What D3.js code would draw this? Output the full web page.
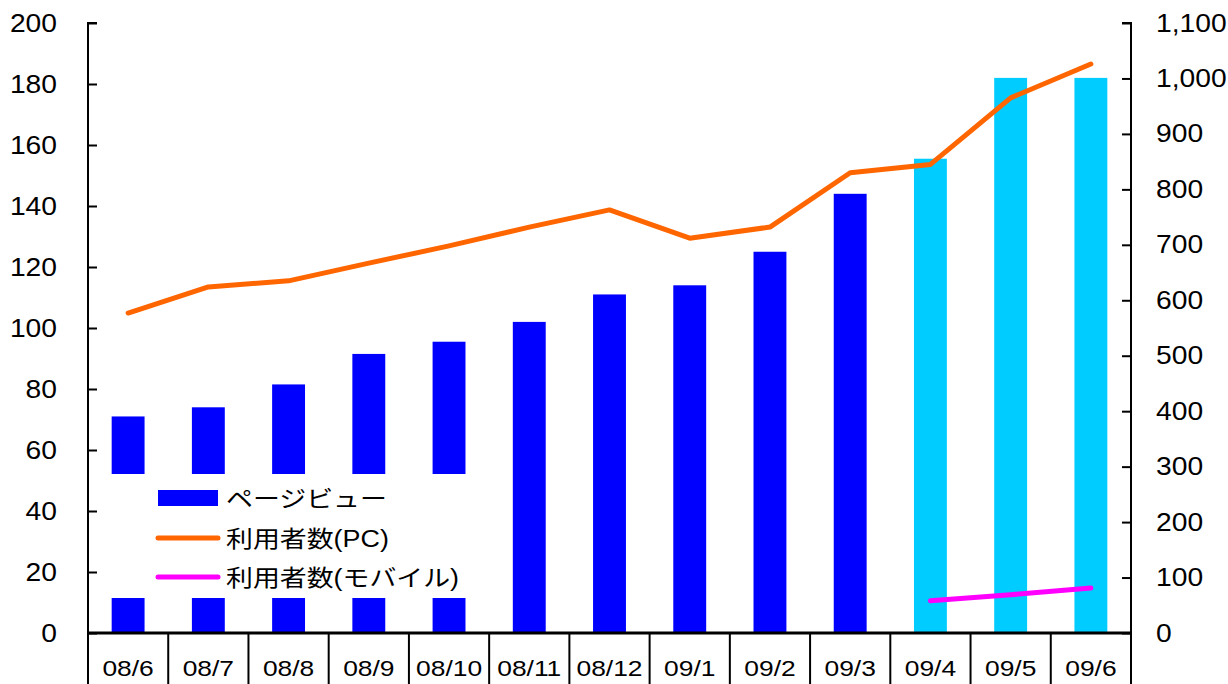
<!DOCTYPE html>
<html>
<head>
<meta charset="utf-8">
<script src="https://cdn.jsdelivr.net/npm/d3@7/dist/d3.min.js"></script>
<style>
    body { margin: 0; background: #fff; }
    text { font-family: "Liberation Sans", "Noto Sans CJK JP", sans-serif; fill: #000; }
</style>
</head>
<body>
<svg id="chart" width="1228" height="684"></svg>
<script>
    const months = ["08/6", "08/7", "08/8", "08/9", "08/10", "08/11", "08/12", "09/1", "09/2", "09/3", "09/4", "09/5", "09/6"];
    const pageViews = [71, 74, 81.5, 91.5, 95.5, 102, 111, 114, 125, 144, 155.5, 182, 182];
    const usersPC = [577, 624, 635, 667, 698, 732, 763, 712, 732, 830, 845, 965, 1026];
    const usersMobile = [null, null, null, null, null, null, null, null, null, null, 58, 69, 81];
    const leftTicks = [0, 20, 40, 60, 80, 100, 120, 140, 160, 180, 200];
    const rightTicks = [0, 100, 200, 300, 400, 500, 600, 700, 800, 900, 1000, 1100];
    const legendLabels = ["ページビュー", "利用者数(PC)", "利用者数(モバイル)"];
    const lightFrom = 10; // 09/4 onwards drawn in light blue

    const svg = d3.select("#chart");
    const plotLeft = 88, plotRight = 1131, plotTop = 23, plotBottom = 633;
    const stretch = 1.13; // the original text is drawn a little wide

    const x = d3.scaleBand().domain(months).range([plotLeft, plotRight]);
    const yL = d3.scaleLinear().domain([0, 200]).range([plotBottom, plotTop]);
    const yR = d3.scaleLinear().domain([0, 1100]).range([plotBottom, plotTop]);
    const barW = x.bandwidth() * 0.41;
    const cx = d => x(d) + x.bandwidth() / 2;

    // bars
    svg.append("g").selectAll("rect")
        .data(months)
        .join("rect")
        .attr("x", d => cx(d) - barW / 2)
        .attr("width", barW)
        .attr("y", (d, i) => yL(pageViews[i]))
        .attr("height", (d, i) => plotBottom - yL(pageViews[i]))
        .attr("fill", (d, i) => i >= lightFrom ? "#00CCFF" : "#0000FF");

    // lines
    const line = d3.line()
        .defined(d => d[1] != null)
        .x(d => cx(d[0]))
        .y(d => yR(d[1]));

    svg.append("path")
        .attr("d", line(months.map((m, i) => [m, usersPC[i]])))
        .attr("fill", "none").attr("stroke", "#FF6600")
        .attr("stroke-width", 5).attr("stroke-linecap", "round").attr("stroke-linejoin", "round");

    svg.append("path")
        .attr("d", line(months.map((m, i) => [m, usersMobile[i]])))
        .attr("fill", "none").attr("stroke", "#FF00FF")
        .attr("stroke-width", 5).attr("stroke-linecap", "round");

    // left axis
    const axL = svg.append("g")
        .attr("transform", `translate(${plotLeft},0)`)
        .call(d3.axisRight(yL).tickValues(leftTicks).tickSize(9).tickFormat(d3.format("d")));
    axL.select(".domain").attr("stroke-width", 2).attr("d", `M9,${plotTop}H0V684`);
    axL.selectAll(".tick line").attr("stroke-width", 2);
    axL.selectAll(".tick text")
        .attr("x", -31 / stretch).attr("text-anchor", "end").attr("font-size", 25)
        .attr("transform", `scale(${stretch},1)`);

    // right axis
    const axR = svg.append("g")
        .attr("transform", `translate(${plotRight},0)`)
        .call(d3.axisLeft(yR).tickValues(rightTicks).tickSize(9).tickFormat(d3.format(",")));
    axR.select(".domain").attr("stroke-width", 2).attr("d", `M-9,${plotTop}H0V684`);
    axR.selectAll(".tick line").attr("stroke-width", 2);
    axR.selectAll(".tick text")
        .attr("x", 25 / stretch).attr("text-anchor", "start").attr("font-size", 25)
        .attr("transform", `scale(${stretch},1)`);
    svg.selectAll(".tick text").attr("fill", "#000");
    svg.selectAll("g").attr("font-family", null);

    // category axis with boxes
    const axB = svg.append("g").attr("transform", `translate(0,${plotBottom})`);
    axB.append("line").attr("x1", plotLeft).attr("x2", plotRight)
        .attr("stroke", "#000").attr("stroke-width", 3);
    axB.selectAll("line.sep")
        .data(months.slice(1))
        .join("line").attr("class", "sep")
        .attr("x1", d => x(d)).attr("x2", d => x(d))
        .attr("y1", 0).attr("y2", 60)
        .attr("stroke", "#000").attr("stroke-width", 2);
    axB.selectAll("text")
        .data(months)
        .join("text")
        .attr("transform", d => `translate(${cx(d)},43) scale(1.2,1)`)
        .attr("text-anchor", "middle").attr("font-size", 22)
        .text(d => d);

    // legend
    const lg = svg.append("g");
    lg.append("rect").attr("x", 100).attr("y", 474).attr("width", 372).attr("height", 124).attr("fill", "#fff");
    lg.append("rect").attr("x", 158).attr("y", 490).attr("width", 60).attr("height", 16).attr("fill", "#0000FF");
    lg.append("line").attr("x1", 158).attr("x2", 218).attr("y1", 538).attr("y2", 538)
        .attr("stroke", "#FF6600").attr("stroke-width", 5).attr("stroke-linecap", "round");
    lg.append("line").attr("x1", 158).attr("x2", 218).attr("y1", 577).attr("y2", 577)
        .attr("stroke", "#FF00FF").attr("stroke-width", 5).attr("stroke-linecap", "round");
    const legendY = [507, 547, 586];
    lg.selectAll("text.lab")
        .data(legendLabels)
        .join("text").attr("class", "lab")
        .attr("transform", (d, i) => `translate(226,${legendY[i]}) scale(1.17,1)`)
        .attr("font-size", 23)
        .text(d => d);
</script>
</body>
</html>
